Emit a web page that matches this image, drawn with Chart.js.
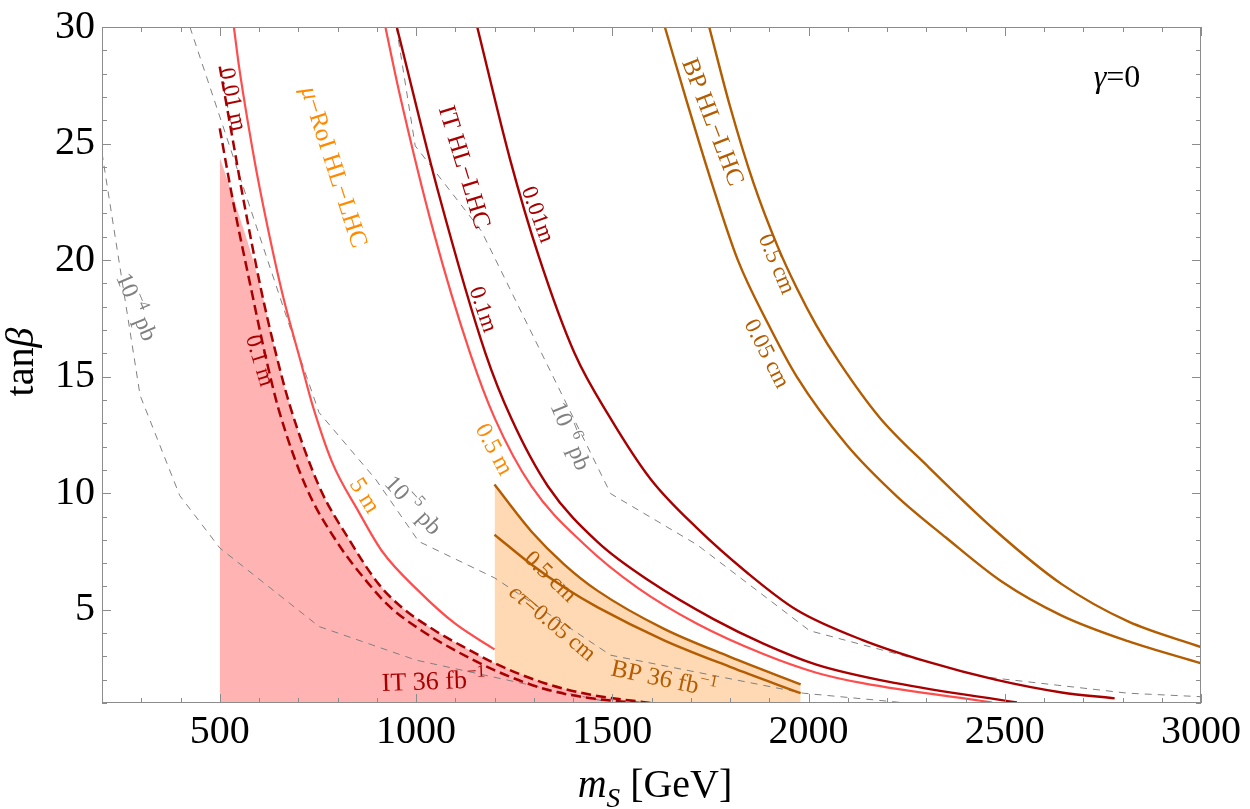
<!DOCTYPE html>
<html>
<head>
<meta charset="utf-8">
<title>tanβ vs m_S</title>
<script src="https://cdn.jsdelivr.net/npm/chart.js@4.4.1/dist/chart.umd.min.js"></script>
<style>
  html, body { margin: 0; padding: 0; background: #fff; }
  #wrap { width: 1250px; height: 809px; position: relative; }
</style>
</head>
<body>
<div id="wrap"><canvas id="c"></canvas></div>
<script>
// tick labels
const xTicks = [500, 1000, 1500, 2000, 2500, 3000];
const yTicks = [5, 10, 15, 20, 25, 30];

// mu-RoI HL-LHC (5 m and 0.5 m)
const msRoi5 = [536, 550, 583, 604, 659, 707, 736, 787, 854, 914, 1007, 1100, 1200];
const tbRoi5 = [30, 28.2, 24.8, 22.9, 18.6, 15.6, 13.8, 11.3, 9.2, 7.5, 5.8, 4.4, 3.3];
const msRoi05 = [922, 956, 1045, 1138, 1201, 1294, 1429, 1564, 1716, 1885, 2020, 2138, 2468];
const tbRoi05 = [30, 27.3, 21.2, 16.0, 13.2, 10.3, 7.8, 5.95, 4.4, 3.1, 2.3, 1.85, 1.02];

// IT HL-LHC (0.1 m and 0.01 m)
const msIT01 = [951, 1057, 1177, 1243, 1336, 1463, 1598, 1758, 1885, 2020, 2223, 2531];
const tbIT01 = [30, 22.9, 16.0, 13.2, 10.3, 7.9, 6.2, 4.6, 3.55, 2.65, 1.85, 1.02];
const msIT001 = [1156, 1240, 1312, 1404, 1496, 1598, 1716, 1843, 1969, 2138, 2307, 2476, 2645, 2780];
const tbIT001 = [30, 24.3, 20.2, 16.0, 13.2, 10.6, 8.5, 6.6, 5.0, 3.7, 2.75, 2.0, 1.45, 1.2];

// BP HL-LHC (0.05 cm and 0.5 cm)
const msBP005 = [1634, 1690, 1750, 1820, 1896, 1970, 2096, 2223, 2350, 2493, 2645, 2814, 3000];
const tbBP005 = [30, 26.8, 23.5, 20.0, 17.3, 15.0, 12.1, 9.9, 8.1, 6.2, 4.75, 3.65, 2.7];
const msBP05 = [1747, 1800, 1860, 1921, 1970, 2020, 2079, 2181, 2307, 2476, 2645, 2814, 3000];
const tbBP05 = [30, 26.6, 23.3, 20.6, 18.8, 17.2, 15.6, 13.25, 11.1, 8.4, 6.1, 4.5, 3.4];

// IT 36 fb-1 (0.01 m, 0.1 m) and its excluded region
const msIT36a = [500, 537, 557, 607, 643, 678, 753, 830, 905, 964, 1049, 1133, 1201, 1328, 1446, 1598];
const tbIT36a = [28.3, 24.8, 22.9, 18.6, 16.0, 13.8, 10.3, 8.0, 6.1, 5.1, 4.1, 3.3, 2.7, 1.85, 1.35, 1.0];
const msIT36b = [500, 533, 582, 615, 650, 719, 795, 880, 935, 1015, 1095, 1201, 1328, 1446, 1570];
const tbIT36b = [25.65, 22.6, 18.6, 16.0, 13.6, 10.3, 8.0, 6.1, 5.1, 4.1, 3.3, 2.4, 1.6, 1.2, 1.0];
const msFillIT = [500, 540, 583, 607, 643, 678, 753, 830, 905, 964, 1049, 1133, 1201, 1328, 1446, 1598];
const tbFillIT = [24.4, 22.4, 20.1, 18.6, 16.0, 13.8, 10.3, 8.0, 6.1, 5.1, 4.1, 3.3, 2.7, 1.85, 1.35, 1.0];

// BP 36 fb-1 (0.5 cm, 0.05 cm)
const msBP36a = [1200, 1294, 1378, 1463, 1632, 1800, 1980];
const tbBP36a = [10.37, 8.36, 6.94, 5.81, 4.18, 2.98, 1.80];
const msBP36b = [1200, 1294, 1378, 1463, 1632, 1800, 1980];
const tbBP36b = [8.22, 6.94, 5.95, 5.10, 3.69, 2.55, 1.42];

// cross section contours 1e-4, 1e-5, 1e-6 pb
const msXs4 = [200, 297, 398, 500, 753, 1000, 1500];
const tbXs4 = [24.6, 14.2, 9.9, 7.65, 4.28, 2.84, 1.0];
const msXs5 = [424, 707, 753, 897, 1007, 1201, 1496, 1987, 2250];
const tbXs5 = [30, 15.7, 13.46, 10.6, 7.93, 6.36, 3.05, 1.42, 1.0];
const msXs6 = [950, 998, 1167, 1496, 1716, 2003, 2443, 2814, 3000];
const tbXs6 = [30, 24.9, 21.24, 9.98, 7.79, 4.1, 2.13, 1.42, 1.27];

const RED = '#a80000', SALMON = '#ff4d4d', ORANGE = '#ff8a00', BROWN = '#b35c00', GREY = '#808080';
const SERIF = '"Liberation Serif", "DejaVu Serif", serif';

function pts(xs, ys) {
  return xs.map((x, i) => ({ x: x, y: ys[i] }));
}

function curve(xs, ys, color, width, dash) {
  return {
    data: pts(xs, ys),
    borderColor: color,
    borderWidth: width,
    borderDash: dash || [],
    pointRadius: 0,
    fill: false,
    cubicInterpolationMode: 'monotone',
    order: 1
  };
}

function xsec(xs, ys) {
  return {
    data: pts(xs, ys),
    borderColor: GREY,
    borderWidth: 1,
    borderDash: [7, 6],
    pointRadius: 0,
    fill: false,
    tension: 0,
    order: 5
  };
}

function region(xs, ys, color) {
  return {
    data: pts(xs, ys),
    borderWidth: 0,
    borderColor: 'rgba(0,0,0,0)',
    backgroundColor: color,
    pointRadius: 0,
    fill: 'start',
    cubicInterpolationMode: 'monotone',
    order: 10
  };
}

// text on the plot: parts with optional italic / superscript / subscript
const notes = [
  { parts: [{ t: '0.01 m' }], ms: 535, tb: 26.9, rot: 78, color: RED, size: 23 },
  { parts: [{ t: '0.1 m' }], ms: 604, tb: 15.7, rot: 73, color: RED, size: 23 },
  { parts: [{ t: 'μ', it: true }, { t: '−RoI HL−LHC' }], ms: 793, tb: 24.0, rot: 72, color: ORANGE, size: 25 },
  { parts: [{ t: 'IT HL−LHC' }], ms: 1125, tb: 24.0, rot: 73, color: RED, size: 25 },
  { parts: [{ t: '0.01m' }], ms: 1312, tb: 21.97, rot: 70, color: RED, size: 23 },
  { parts: [{ t: '0.1m' }], ms: 1173, tb: 17.9, rot: 71, color: RED, size: 23 },
  { parts: [{ t: 'BP HL−LHC' }], ms: 1758, tb: 25.94, rot: 69, color: BROWN, size: 25 },
  { parts: [{ t: '0.5 cm' }], ms: 1921, tb: 19.85, rot: 67, color: BROWN, size: 23 },
  { parts: [{ t: '0.05 cm' }], ms: 1896, tb: 16.0, rot: 63, color: BROWN, size: 23 },
  { parts: [{ t: '5 m' }], ms: 871, tb: 9.92, rot: 58, color: ORANGE, size: 24 },
  { parts: [{ t: '10' }, { t: '−5', sup: true }, { t: ' pb' }], ms: 994, tb: 9.5, rot: 47, color: GREY, size: 24 },
  { parts: [{ t: '0.5 m' }], ms: 1201, tb: 11.9, rot: 62, color: ORANGE, size: 24 },
  { parts: [{ t: '10' }, { t: '−6', sup: true }, { t: ' pb' }], ms: 1395, tb: 12.46, rot: 68, color: GREY, size: 24 },
  { parts: [{ t: '0.5 cm' }], ms: 1344, tb: 6.45, rot: 44, color: BROWN, size: 23 },
  { parts: [{ t: 'cτ', it: true }, { t: '=0.05 cm' }], ms: 1349, tb: 4.46, rot: 40, color: BROWN, size: 23 },
  { parts: [{ t: 'BP 36 fb' }, { t: '−1', sup: true }], ms: 1632, tb: 2.06, rot: 12, color: BROWN, size: 25 },
  { parts: [{ t: 'IT 36 fb' }, { t: '−1', sup: true }], ms: 1045, tb: 1.96, rot: -2, color: RED, size: 26 },
  { parts: [{ t: '10' }, { t: '−4', sup: true }, { t: ' pb' }], ms: 289, tb: 18.0, rot: 67, color: GREY, size: 24 },
  { parts: [{ t: 'γ', it: true }, { t: '=0' }], ms: 2786, tb: 27.9, rot: 0, color: '#000', size: 32 }
];

function drawParts(ctx, parts, size, color) {
  let w = 0;
  const segs = parts.map(p => {
    const s = (p.sup || p.sub) ? size * 0.68 : size;
    const f = (p.it ? 'italic ' : '') + s + 'px ' + SERIF;
    ctx.font = f;
    const pw = ctx.measureText(p.t).width;
    w += pw;
    return { p: p, f: f, pw: pw };
  });
  let x = -w / 2;
  ctx.fillStyle = color;
  ctx.textAlign = 'left';
  ctx.textBaseline = 'alphabetic';
  segs.forEach(s => {
    ctx.font = s.f;
    const dy = s.p.sup ? -size * 0.42 : (s.p.sub ? size * 0.24 : 0);
    ctx.fillText(s.p.t, x, dy);
    x += s.pw;
  });
}

const decor = {
  id: 'decor',
  afterDatasetsDraw(chart) {
    const ctx = chart.ctx;
    const a = chart.chartArea;
    const sx = chart.scales.x, sy = chart.scales.y;
    ctx.save();

    // frame with inward ticks on all sides
    ctx.strokeStyle = '#8c8c8c';
    ctx.lineWidth = 1;
    ctx.strokeRect(a.left + 0.5, a.top + 0.5, a.right - a.left - 1, a.bottom - a.top - 1);
    ctx.beginPath();
    for (let v = 200; v <= 3000; v += 100) {
      const px = Math.round(sx.getPixelForValue(v)) + 0.5;
      const len = (v % 500 === 0) ? 9 : 5;
      ctx.moveTo(px, a.bottom); ctx.lineTo(px, a.bottom - len);
      ctx.moveTo(px, a.top); ctx.lineTo(px, a.top + len);
    }
    for (let v = 1; v <= 30; v += 1) {
      const py = Math.round(sy.getPixelForValue(v)) + 0.5;
      const len = (v % 5 === 0) ? 9 : 5;
      ctx.moveTo(a.left, py); ctx.lineTo(a.left + len, py);
      ctx.moveTo(a.right, py); ctx.lineTo(a.right - len, py);
    }
    ctx.stroke();

    // labels on the plot
    notes.forEach(n => {
      ctx.save();
      ctx.translate(sx.getPixelForValue(n.ms), sy.getPixelForValue(n.tb));
      ctx.rotate(n.rot * Math.PI / 180);
      ctx.translate(0, n.size * 0.33);
      drawParts(ctx, n.parts, n.size, n.color);
      ctx.restore();
    });

    // axis titles
    ctx.save();
    ctx.translate(655, 797);
    drawParts(ctx, [{ t: 'm', it: true }, { t: 'S', it: true, sub: true }, { t: ' [GeV]' }], 40, '#000');
    ctx.restore();

    ctx.save();
    ctx.translate(33, 362);
    ctx.rotate(-Math.PI / 2);
    drawParts(ctx, [{ t: 'tan' }, { t: 'β', it: true }], 40, '#000');
    ctx.restore();

    ctx.restore();
  }
};

new Chart(document.getElementById('c'), {
  type: 'line',
  data: {
    datasets: [
      region(msFillIT, tbFillIT, '#ffb3b3'),
      region(msBP36a, tbBP36a, '#fed9b4'),
      xsec(msXs4, tbXs4),
      xsec(msXs5, tbXs5),
      xsec(msXs6, tbXs6),
      curve(msIT36a, tbIT36a, RED, 2.5, [10, 5]),
      curve(msIT36b, tbIT36b, RED, 2.5, [10, 5]),
      curve(msRoi5, tbRoi5, SALMON, 2.2),
      curve(msRoi05, tbRoi05, SALMON, 2.2),
      curve(msIT01, tbIT01, RED, 2.4),
      curve(msIT001, tbIT001, RED, 2.4),
      curve(msBP36a, tbBP36a, BROWN, 2.4),
      curve(msBP36b, tbBP36b, BROWN, 2.4),
      curve(msBP005, tbBP005, BROWN, 2.4),
      curve(msBP05, tbBP05, BROWN, 2.4)
    ]
  },
  options: {
    responsive: true,
    maintainAspectRatio: false,
    animation: false,
    layout: { padding: { top: 20, right: 43, left: 0, bottom: 0 } },
    plugins: {
      legend: { display: false },
      tooltip: { enabled: false }
    },
    scales: {
      x: {
        type: 'linear',
        min: 200,
        max: 3000,
        grid: { display: false, drawTicks: false },
        border: { display: false },
        ticks: {
          autoSkip: false,
          maxRotation: 0,
          padding: 9,
          color: '#000',
          font: { family: SERIF, size: 40, lineHeight: 1 },
          callback: v => String(v)
        },
        afterBuildTicks: s => { s.ticks = xTicks.map(v => ({ value: v })); },
        afterFit: s => { s.height = 106; }
      },
      y: {
        type: 'linear',
        min: 1,
        max: 30,
        grid: { display: false, drawTicks: false },
        border: { display: false },
        ticks: {
          autoSkip: false,
          padding: 7,
          color: '#000',
          font: { family: SERIF, size: 40, lineHeight: 1 },
          callback: v => String(v)
        },
        afterBuildTicks: s => { s.ticks = yTicks.map(v => ({ value: v })); },
        afterFit: s => { s.width = 102; }
      }
    }
  },
  plugins: [decor]
});
</script>
</body>
</html>
